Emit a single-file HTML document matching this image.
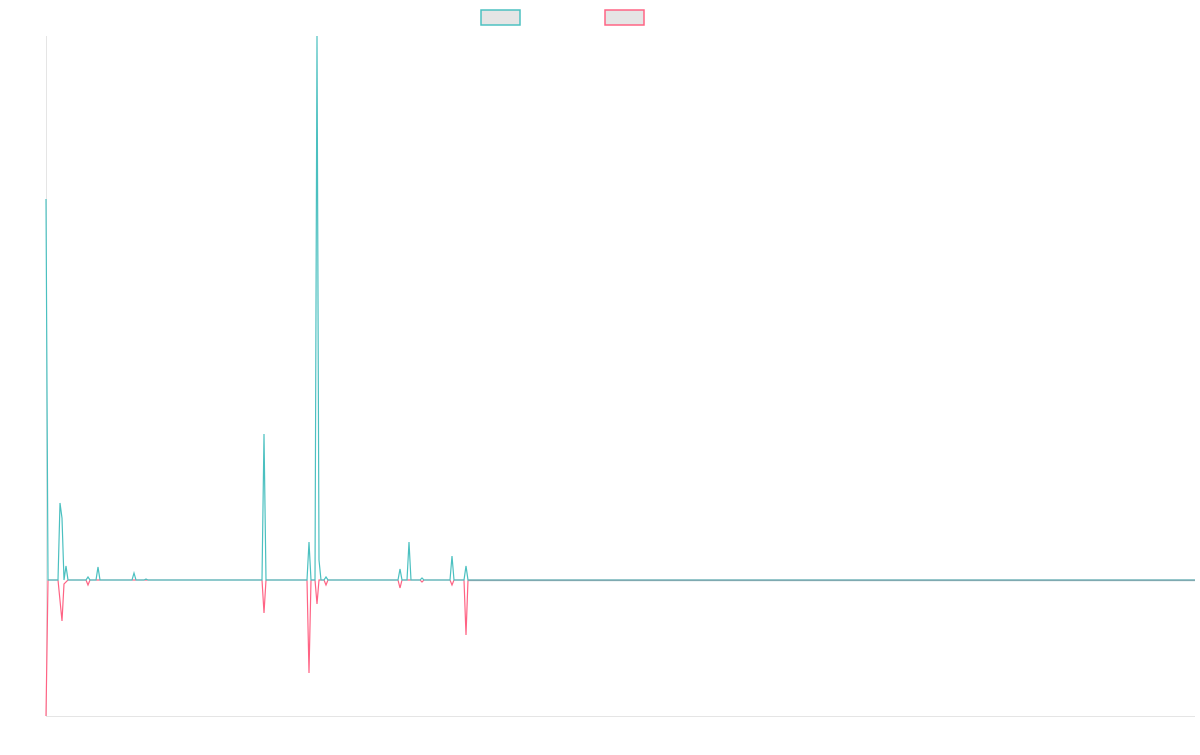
<!DOCTYPE html>
<html><head><style>body{margin:0;background:#fff}</style></head><body>
<svg width="1200" height="750" xmlns="http://www.w3.org/2000/svg">
<rect x="481" y="10" width="39" height="15" fill="#e5e5e5" stroke="#4bc0c0" stroke-width="1.5"/>
<rect x="605" y="10" width="39" height="15" fill="#e5e5e5" stroke="#ff6384" stroke-width="1.5"/>
<line x1="46.5" y1="36" x2="46.5" y2="716" stroke="#e5e5e5"/>
<line x1="46" y1="716.5" x2="1195" y2="716.5" stroke="#e5e5e5"/>
<g fill="none" stroke-width="1.2">
<polyline stroke="#ff6384" points="46,716 48,580 58,580 62,621 64,584 68,580 86,580 88,585 90,580 262,580 264,613 266,580 307,580 309,673 311,580 315,580 317,604 319,580 324,580 326,585 328,580 398,580 400,588 402,580 420,580 422,582 424,580 450,580 452,585 454,580 464,580 466,635 468,580 1195,580"/>
<polyline stroke="#4bc0c0" points="46,199 48,580 58,580 60,503 62,518 64,580 66,566 68,580 86,580 88,577 90,580 96,580 98,567 100,580 132,580 134,573 136,580 144,580 146,579 148,580 262,580 264,434 266,580 307,580 309,542 311,580 315,580 317,36 319,560 321,580 324,580 326,577 328,580 398,580 400,569 402,580 407,580 409,542 411,580 420,580 422,578 424,580 450,580 452,556 454,580 464,580 466,566 468,580 1195,580"/>
<line x1="468" y1="580.5" x2="1195" y2="580.5" stroke="#7fa9b0" stroke-width="1.2"/>
</g>
</svg>
</body></html>
